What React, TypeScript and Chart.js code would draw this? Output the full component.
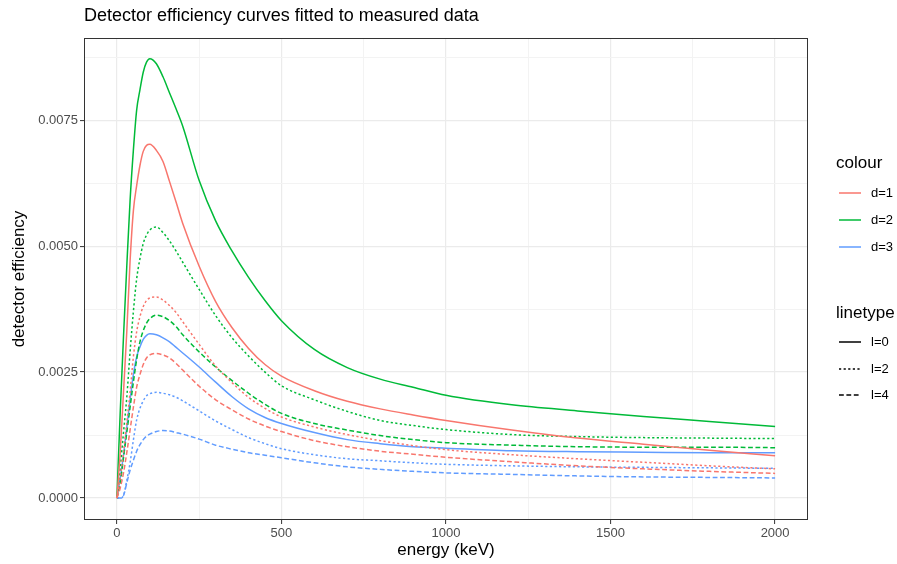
import React, { useEffect, useRef } from 'react';
import { Chart, registerables } from 'chart.js';

Chart.register(...registerables);

// ---- data ----
const energy = [0, 10, 20, 30, 40, 50, 60, 70, 80, 90, 100, 120, 140, 160, 180, 200, 250, 300, 350, 400, 450, 500, 600, 700, 800, 900, 1000, 1200, 1400, 1600, 1800, 2000];

const effD1L0 = [0, 0.0009, 0.0021, 0.0033, 0.0047, 0.0057, 0.0062, 0.0066, 0.00688, 0.0070, 0.00702, 0.0069, 0.00668, 0.00628, 0.00587, 0.00545, 0.0046, 0.0039, 0.00338, 0.00297, 0.00265, 0.00242, 0.00213, 0.00192, 0.00177, 0.00165, 0.00154, 0.00135, 0.00119, 0.00107, 0.00095, 0.00084];
const effD1L2 = [0, 0.0004, 0.0009, 0.0015, 0.0021, 0.0028, 0.0033, 0.0036, 0.0038, 0.00392, 0.00397, 0.00399, 0.00393, 0.00382, 0.00368, 0.0035, 0.00305, 0.00262, 0.00229, 0.00200, 0.00178, 0.00161, 0.00141, 0.00126, 0.00114, 0.00104, 0.00096, 0.00086, 0.00078, 0.00071, 0.00064, 0.00058];
const effD1L4 = [0, 0.0002, 0.0005, 0.0009, 0.00135, 0.0018, 0.0022, 0.00245, 0.00265, 0.00278, 0.00284, 0.00287, 0.00284, 0.00278, 0.00267, 0.00254, 0.00222, 0.00195, 0.00175, 0.00157, 0.00143, 0.00132, 0.00114, 0.00102, 0.00093, 0.00087, 0.00081, 0.00072, 0.00064, 0.00058, 0.00053, 0.00049];
const effD2L0 = [0, 0.0017, 0.0032, 0.0046, 0.0059, 0.0069, 0.0077, 0.0081, 0.00845, 0.00865, 0.00872, 0.00862, 0.00836, 0.00804, 0.00772, 0.00738, 0.0063, 0.0055, 0.0049, 0.00438, 0.00392, 0.00352, 0.00295, 0.00259, 0.00236, 0.0022, 0.00204, 0.00185, 0.00173, 0.00162, 0.00152, 0.00142];
const effD2L2 = [0, 0.0006, 0.0013, 0.0020, 0.0029, 0.0037, 0.00435, 0.00475, 0.00505, 0.00522, 0.00532, 0.00538, 0.00527, 0.0051, 0.0049, 0.00468, 0.00414, 0.00362, 0.00318, 0.00282, 0.0025, 0.00223, 0.00195, 0.00172, 0.00154, 0.00144, 0.00136, 0.00126, 0.00122, 0.0012, 0.00119, 0.00118];
const effD2L4 = [0, 0.0003, 0.0008, 0.0013, 0.0018, 0.0023, 0.00275, 0.0031, 0.00332, 0.00347, 0.00356, 0.00363, 0.0036, 0.00352, 0.0034, 0.00324, 0.0029, 0.0026, 0.00233, 0.00208, 0.00186, 0.00168, 0.00148, 0.00135, 0.00124, 0.00116, 0.0011, 0.00105, 0.00102, 0.00101, 0.00101, 0.0010];
const effD3L0 = [0, 0.0004, 0.00085, 0.0014, 0.00195, 0.00245, 0.0028, 0.0030, 0.00315, 0.00323, 0.00326, 0.00324, 0.00318, 0.0031, 0.00299, 0.00288, 0.0026, 0.0023, 0.00201, 0.00177, 0.0016, 0.00148, 0.0013, 0.00116, 0.00108, 0.00102, 0.00099, 0.00094, 0.00092, 0.00091, 0.0009, 0.0009];
const effD3L2 = [0, 0, 0.00005, 0.00035, 0.0007, 0.00115, 0.00155, 0.00178, 0.00193, 0.00203, 0.00207, 0.0021, 0.00208, 0.00205, 0.0020, 0.00193, 0.00173, 0.00153, 0.00136, 0.0012, 0.00108, 0.00098, 0.00086, 0.00078, 0.00074, 0.0007, 0.00067, 0.00064, 0.00062, 0.00061, 0.0006, 0.00059];
const effD3L4 = [0, 0, 0.00005, 0.0003, 0.00055, 0.00075, 0.00093, 0.00106, 0.00116, 0.00123, 0.00127, 0.00132, 0.00134, 0.00133, 0.0013, 0.00127, 0.00117, 0.00105, 0.00097, 0.0009, 0.00085, 0.0008, 0.0007, 0.00062, 0.00057, 0.00053, 0.0005, 0.00047, 0.00044, 0.00042, 0.00041, 0.0004];

const colourLabels = ['d=1', 'd=2', 'd=3'];
const linetypeLabels = ['l=0', 'l=2', 'l=4'];

const xMajorTicks = [0, 500, 1000, 1500, 2000];
const xMinorTicks = [250, 750, 1250, 1750];
const yMajorTicks = [0, 0.0025, 0.005, 0.0075];
const yMinorTicks = [0.00125, 0.00375, 0.00625, 0.00875];

const titleText = 'Detector efficiency curves fitted to measured data';
const xTitle = 'energy (keV)';
const yTitle = 'detector efficiency';

// ---- styles ----
const colours = ['#F8766D', '#00BA38', '#619CFF'];
const dashes: number[][] = [[], [2.2, 2.4], [4.8, 2.6]];
const FONT = '"Liberation Sans", Arial, Helvetica, sans-serif';

const seriesList = [
  { c: 0, l: 0, v: effD1L0 },
  { c: 0, l: 1, v: effD1L2 },
  { c: 0, l: 2, v: effD1L4 },
  { c: 1, l: 0, v: effD2L0 },
  { c: 1, l: 1, v: effD2L2 },
  { c: 1, l: 2, v: effD2L4 },
  { c: 2, l: 0, v: effD3L0 },
  { c: 2, l: 1, v: effD3L2 },
  { c: 2, l: 2, v: effD3L4 },
];

const isMajor = (list: number[], v: number) => list.some((m) => Math.abs(m - v) < 1e-9);

const overlayPlugin = {
  id: 'overlay',
  afterDatasetsDraw(chart: any) {
    const { ctx, chartArea } = chart;
    ctx.save();
    ctx.strokeStyle = '#333333';
    ctx.lineWidth = 1;
    ctx.setLineDash([]);
    ctx.strokeRect(
      Math.round(chartArea.left) + 0.5,
      Math.round(chartArea.top) + 0.5,
      Math.round(chartArea.right - chartArea.left) - 1,
      Math.round(chartArea.bottom - chartArea.top) - 1
    );
    ctx.restore();
  },
  afterDraw(chart: any) {
    const { ctx } = chart;
    ctx.save();
    // title
    ctx.fillStyle = '#000000';
    ctx.textBaseline = 'middle';
    ctx.textAlign = 'left';
    ctx.font = `18px ${FONT}`;
    ctx.fillText(titleText, 84, 16);

    // legend: colour
    const lx = 836;
    const keyX1 = 839;
    const keyX2 = 861;
    const textX = 871;
    ctx.font = `17px ${FONT}`;
    ctx.fillText('colour', lx, 163);
    ctx.font = `13px ${FONT}`;
    colourLabels.forEach((lab, i) => {
      const y = 193 + i * 27;
      ctx.strokeStyle = colours[i];
      ctx.lineWidth = 1.5;
      ctx.setLineDash([]);
      ctx.beginPath();
      ctx.moveTo(keyX1, y);
      ctx.lineTo(keyX2, y);
      ctx.stroke();
      ctx.fillStyle = '#000000';
      ctx.fillText(lab, textX, y);
    });

    // legend: linetype
    ctx.font = `17px ${FONT}`;
    ctx.fillText('linetype', lx, 313);
    ctx.font = `13px ${FONT}`;
    linetypeLabels.forEach((lab, i) => {
      const y = Math.round(342 + i * 26.5);
      ctx.strokeStyle = '#000000';
      ctx.lineWidth = 1.5;
      ctx.setLineDash(dashes[i]);
      ctx.beginPath();
      ctx.moveTo(keyX1, y);
      ctx.lineTo(keyX2, y);
      ctx.stroke();
      ctx.setLineDash([]);
      ctx.fillText(lab, textX, y);
    });
    ctx.restore();
  },
};

export default function App() {
  const canvasRef = useRef<HTMLCanvasElement | null>(null);

  useEffect(() => {
    if (!canvasRef.current) return;
    const datasets = seriesList.map((s) => ({
      label: `${colourLabels[s.c]} ${linetypeLabels[s.l]}`,
      data: energy.map((e, i) => ({ x: e, y: s.v[i] })),
      borderColor: colours[s.c],
      borderWidth: 1.5,
      borderDash: dashes[s.l],
      pointRadius: 0,
      fill: false,
      cubicInterpolationMode: 'monotone' as const,
    }));

    const chart = new Chart(canvasRef.current, {
      type: 'line',
      data: { datasets },
      options: {
        animation: false,
        responsive: false,
        maintainAspectRatio: false,
        layout: { padding: { left: 0, top: 38, right: 89, bottom: 0 } },
        plugins: {
          legend: { display: false },
          title: { display: false },
          tooltip: { enabled: false },
        },
        scales: {
          x: {
            type: 'linear',
            min: -100,
            max: 2100,
            afterBuildTicks: (scale: any) => {
              scale.ticks = [...xMajorTicks, ...xMinorTicks].sort((a, b) => a - b).map((v) => ({ value: v }));
            },
            afterFit: (scale: any) => {
              scale.height = 44;
            },
            ticks: {
              autoSkip: false,
              maxRotation: 0,
              padding: 2,
              color: '#4D4D4D',
              font: { family: FONT, size: 13 },
              callback: (v: any) => (isMajor(xMajorTicks, Number(v)) ? String(v) : ''),
            },
            grid: {
              color: (c: any) => (isMajor(xMajorTicks, c.tick?.value) ? '#EBEBEB' : '#F3F3F3'),
              lineWidth: (c: any) => (isMajor(xMajorTicks, c.tick?.value) ? 1.2 : 1),
              tickColor: (c: any) => (isMajor(xMajorTicks, c.tick?.value) ? '#333333' : 'rgba(0,0,0,0)'),
              tickLength: 4,
              tickWidth: 1,
            },
            border: { display: false },
            title: {
              display: true,
              text: xTitle,
              color: '#000000',
              font: { family: FONT, size: 17 },
              padding: { top: 0, bottom: 3 },
            },
          },
          y: {
            type: 'linear',
            min: -0.000435,
            max: 0.00913,
            afterBuildTicks: (scale: any) => {
              scale.ticks = [...yMajorTicks, ...yMinorTicks].sort((a, b) => a - b).map((v) => ({ value: v }));
            },
            afterFit: (scale: any) => {
              scale.width = 84;
            },
            ticks: {
              autoSkip: false,
              padding: 2,
              color: '#4D4D4D',
              font: { family: FONT, size: 13 },
              callback: (v: any) => (isMajor(yMajorTicks, Number(v)) ? Number(v).toFixed(4) : ''),
            },
            grid: {
              color: (c: any) => (isMajor(yMajorTicks, c.tick?.value) ? '#EBEBEB' : '#F3F3F3'),
              lineWidth: (c: any) => (isMajor(yMajorTicks, c.tick?.value) ? 1.2 : 1),
              tickColor: (c: any) => (isMajor(yMajorTicks, c.tick?.value) ? '#333333' : 'rgba(0,0,0,0)'),
              tickLength: 4,
              tickWidth: 1,
            },
            border: { display: false },
            title: {
              display: true,
              text: yTitle,
              color: '#000000',
              font: { family: FONT, size: 17 },
              padding: { top: 9, bottom: 0 },
            },
          },
        },
      },
      plugins: [overlayPlugin],
    });

    return () => {
      chart.destroy();
    };
  }, []);

  return (
    <div style={{ position: 'absolute', left: 0, top: 0, width: 897, height: 564, background: '#FFFFFF' }}>
      <canvas ref={canvasRef} width={897} height={564} style={{ display: 'block', width: 897, height: 564 }} />
    </div>
  );
}
